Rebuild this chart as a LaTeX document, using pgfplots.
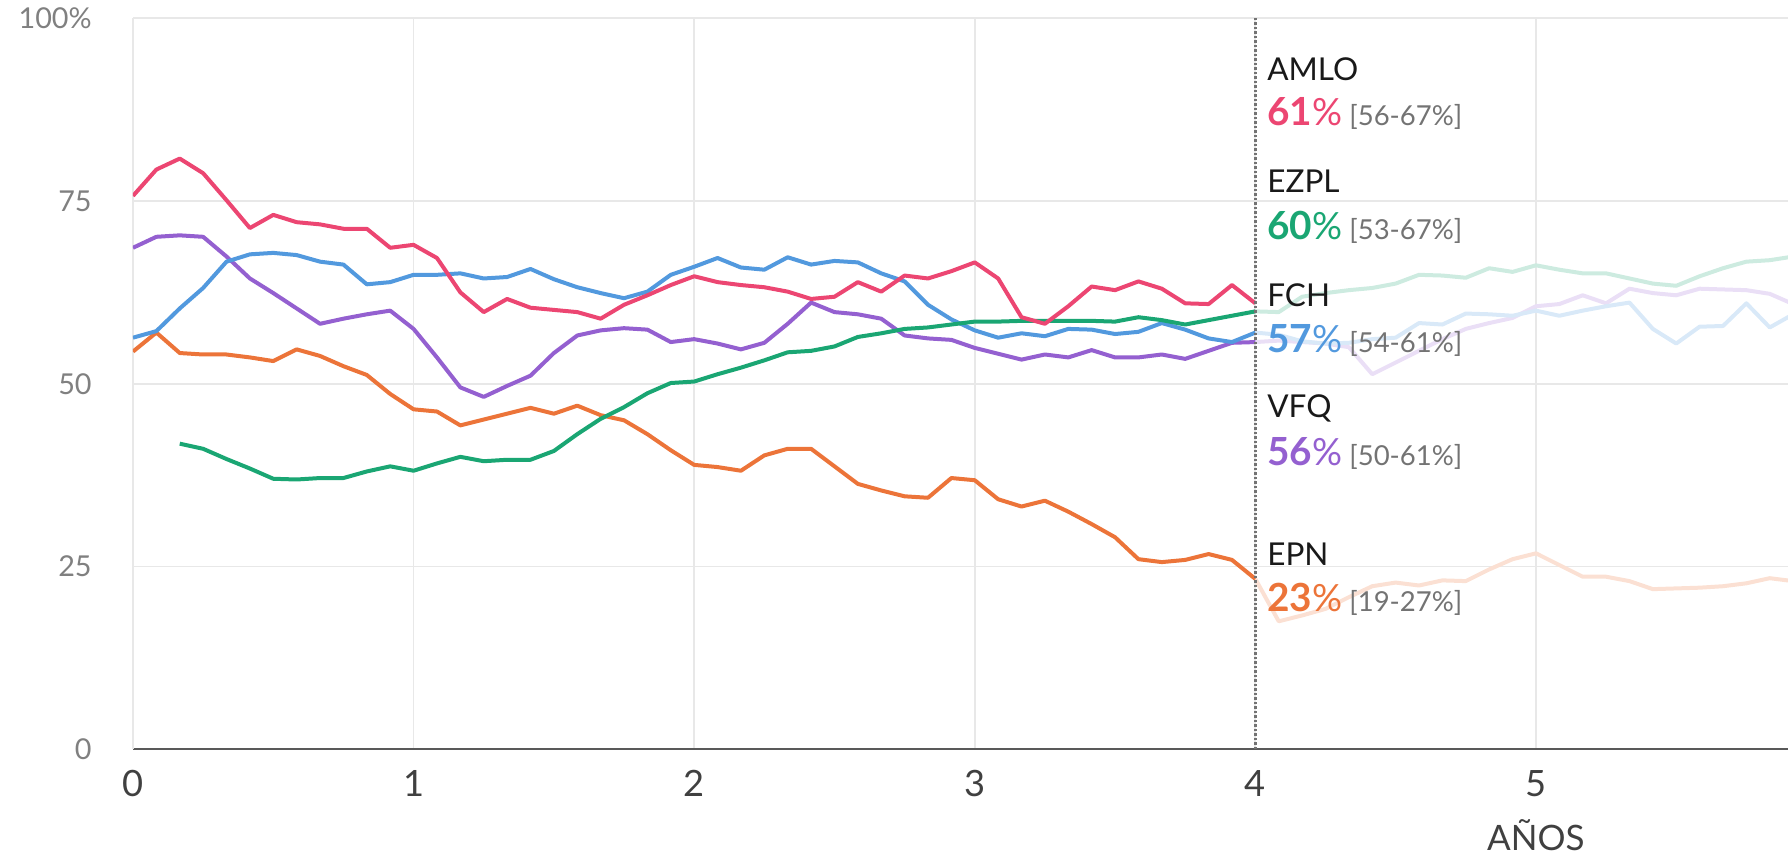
\documentclass[border=0pt]{standalone}
\usepackage{pgfplots}
\pgfplotsset{compat=1.18}
\usepackage{fontspec}
\setmainfont{Lato}
\definecolor{amlo}{HTML}{EC4672}
\definecolor{ezpl}{HTML}{1AA673}
\definecolor{fch}{HTML}{5299DE}
\definecolor{vfq}{HTML}{9460D0}
\definecolor{epn}{HTML}{EC7439}
\definecolor{gridc}{HTML}{E8E8E8}
\begin{document}
\begin{tikzpicture}
\useasboundingbox (-53.2pt,-42.3pt) rectangle (662pt,299.7pt);
\begin{axis}[
 at={(0,0)}, anchor=south west,
 scale only axis, width=662pt, height=292.4pt,
 xmin=0, xmax=70.78, ymin=0, ymax=100,
 axis x line=bottom, axis y line=left,
 axis line style={-},
 x axis line style={draw=black!65, line width=0.7pt},
 y axis line style={draw=gridc, line width=0.7pt},
 xtick={0,12,24,36,48,60}, xticklabels={0,1,2,3,4,5},
 ytick={0,25,50,75,100}, yticklabels={0,25,50,75,100\%},
 major tick length=0pt,
 grid=major, major grid style={draw=gridc, line width=0.7pt},
 xticklabel style={font=\fontsize{14.5}{14.5}\selectfont, text=black!75, yshift=-5pt},
 yticklabel style={font=\fontsize{11.5}{11.5}\selectfont, text=black!50, xshift=-13pt},
 clip=true,
 every axis plot/.append style={line width=1.6pt, line join=round, mark=none},
 /pgf/number format/assume math mode=true,
]
% faded continuations
\addplot[ezpl!22!white] coordinates {(48,59.9)(49,59.8)(50,61.9)(51,62.4)(52,62.8)(53,63.1)(54,63.7)(55,64.9)(56,64.8)(57,64.5)(58,65.8)(59,65.3)(60,66.2)(61,65.6)(62,65.1)(63,65.1)(64,64.4)(65,63.7)(66,63.4)(67,64.7)(68,65.8)(69,66.7)(70,66.9)(71,67.4)};
\addplot[vfq!20!white] coordinates {(48,55.7)(49,55.9)(50,55.7)(51,55.5)(52,55.0)(53,51.3)(54,52.9)(55,54.5)(56,56.1)(57,57.5)(58,58.3)(59,59.0)(60,60.6)(61,60.9)(62,62.1)(63,61.0)(64,63.0)(65,62.4)(66,62.1)(67,63.0)(68,62.9)(69,62.8)(70,62.3)(71,60.9)};
\addplot[fch!22!white] coordinates {(48,57.0)(49,56.7)(50,55.8)(51,55.5)(52,55.6)(53,56.1)(54,56.3)(55,58.3)(56,58.1)(57,59.6)(58,59.5)(59,59.3)(60,60.0)(61,59.3)(62,60.0)(63,60.6)(64,61.1)(65,57.5)(66,55.5)(67,57.8)(68,57.9)(69,61.0)(70,57.7)(71,59.5)};
\addplot[epn!22!white] coordinates {(48,23.3)(49,17.5)(50,18.3)(51,19.2)(52,20.8)(53,22.3)(54,22.8)(55,22.4)(56,23.1)(57,23.0)(58,24.6)(59,26.0)(60,26.8)(61,25.2)(62,23.6)(63,23.6)(64,23.0)(65,21.9)(66,22.0)(67,22.1)(68,22.3)(69,22.7)(70,23.4)(71,23.0)};
% solid series
\addplot[epn] coordinates {(0,54.4)(1,57.0)(2,54.2)(3,54.0)(4,54.0)(5,53.6)(6,53.1)(7,54.7)(8,53.8)(9,52.4)(10,51.2)(11,48.6)(12,46.5)(13,46.2)(14,44.3)(15,45.1)(16,45.9)(17,46.7)(18,45.9)(19,47.0)(20,45.7)(21,45.0)(22,43.1)(23,40.9)(24,38.9)(25,38.6)(26,38.1)(27,40.2)(28,41.1)(29,41.1)(30,38.7)(31,36.3)(32,35.4)(33,34.6)(34,34.4)(35,37.1)(36,36.8)(37,34.2)(38,33.2)(39,34.0)(40,32.5)(41,30.8)(42,29.0)(43,26.0)(44,25.6)(45,25.9)(46,26.7)(47,25.9)(48,23.3)};
\addplot[vfq] coordinates {(0,68.6)(1,70.1)(2,70.3)(3,70.1)(4,67.4)(5,64.4)(6,62.4)(7,60.3)(8,58.2)(9,58.9)(10,59.5)(11,60.0)(12,57.5)(13,53.6)(14,49.5)(15,48.2)(16,49.7)(17,51.1)(18,54.2)(19,56.6)(20,57.3)(21,57.6)(22,57.4)(23,55.7)(24,56.1)(25,55.5)(26,54.7)(27,55.6)(28,58.2)(29,61.1)(30,59.8)(31,59.5)(32,58.9)(33,56.6)(34,56.2)(35,56.0)(36,54.9)(37,54.1)(38,53.3)(39,54.0)(40,53.6)(41,54.6)(42,53.6)(43,53.6)(44,54.0)(45,53.4)(46,54.5)(47,55.6)(48,55.7)};
\addplot[fch] coordinates {(0,56.3)(1,57.2)(2,60.3)(3,63.1)(4,66.7)(5,67.7)(6,67.9)(7,67.6)(8,66.7)(9,66.3)(10,63.6)(11,63.9)(12,64.9)(13,64.9)(14,65.1)(15,64.4)(16,64.6)(17,65.7)(18,64.3)(19,63.2)(20,62.4)(21,61.7)(22,62.6)(23,64.9)(24,66.0)(25,67.2)(26,65.9)(27,65.6)(28,67.3)(29,66.3)(30,66.8)(31,66.6)(32,65.1)(33,64.0)(34,60.8)(35,58.8)(36,57.3)(37,56.3)(38,56.9)(39,56.5)(40,57.5)(41,57.4)(42,56.8)(43,57.1)(44,58.3)(45,57.4)(46,56.2)(47,55.7)(48,57.0)};
\addplot[ezpl] coordinates {(2,41.8)(3,41.1)(4,39.7)(5,38.4)(6,37.0)(7,36.9)(8,37.1)(9,37.1)(10,38.0)(11,38.7)(12,38.1)(13,39.1)(14,40.0)(15,39.4)(16,39.6)(17,39.6)(18,40.8)(19,43.1)(20,45.2)(21,46.8)(22,48.7)(23,50.1)(24,50.3)(25,51.3)(26,52.2)(27,53.2)(28,54.3)(29,54.5)(30,55.1)(31,56.4)(32,56.9)(33,57.5)(34,57.7)(35,58.1)(36,58.5)(37,58.5)(38,58.6)(39,58.6)(40,58.6)(41,58.6)(42,58.5)(43,59.1)(44,58.7)(45,58.1)(46,58.7)(47,59.3)(48,59.9)};
\addplot[amlo] coordinates {(0,75.7)(1,79.3)(2,80.8)(3,78.8)(4,75.1)(5,71.3)(6,73.1)(7,72.1)(8,71.8)(9,71.2)(10,71.2)(11,68.6)(12,69.0)(13,67.2)(14,62.5)(15,59.8)(16,61.6)(17,60.4)(18,60.1)(19,59.8)(20,58.9)(21,60.8)(22,62.1)(23,63.5)(24,64.7)(25,63.9)(26,63.5)(27,63.2)(28,62.6)(29,61.6)(30,61.9)(31,63.9)(32,62.6)(33,64.8)(34,64.4)(35,65.4)(36,66.6)(37,64.4)(38,59.1)(39,58.2)(40,60.6)(41,63.3)(42,62.8)(43,64.0)(44,63.0)(45,61.0)(46,60.9)(47,63.5)(48,61.0)};
% current-time marker
\draw[black!55, line width=1pt, dash pattern=on 0.9pt off 0.9pt] (axis cs:48,0) -- (axis cs:48,100.6);
% labels
\tikzset{nm/.style={anchor=west, xshift=4.6pt, inner sep=0pt, font=\fontsize{12.6}{12.6}\selectfont, text=black!90},
         vl/.style={anchor=west, xshift=4.6pt, inner sep=0pt}}
\newcommand{\val}[3]{{\color{#1}\fontsize{15.5}{15.5}\selectfont\bfseries #2}{\color{#1}\fontsize{15}{15}\selectfont\%}{\color{black!55}\fontsize{11}{11}\selectfont\ [#3\%]}}
\node[nm] at (axis cs:48,93.0) {AMLO};
\node[vl] at (axis cs:48,87.0) {\val{amlo}{61}{56-67}};
\node[nm] at (axis cs:48,77.7) {EZPL};
\node[vl] at (axis cs:48,71.4) {\val{ezpl}{60}{53-67}};
\node[nm] at (axis cs:48,62.1) {FCH};
\node[vl] at (axis cs:48,55.9) {\val{fch}{57}{54-61}};
\node[nm] at (axis cs:48,46.6) {VFQ};
\node[vl] at (axis cs:48,40.4) {\val{vfq}{56}{50-61}};
\node[nm] at (axis cs:48,26.7) {EPN};
\node[vl] at (axis cs:48,20.5) {\val{epn}{23}{19-27}};
\coordinate (anos) at (axis cs:60,0);
\end{axis}
\node[font=\fontsize{14}{14}\selectfont, text=black!75, anchor=base, inner sep=0pt] at ([yshift=-40.6pt]anos) {AÑOS};
\end{tikzpicture}
\end{document}
